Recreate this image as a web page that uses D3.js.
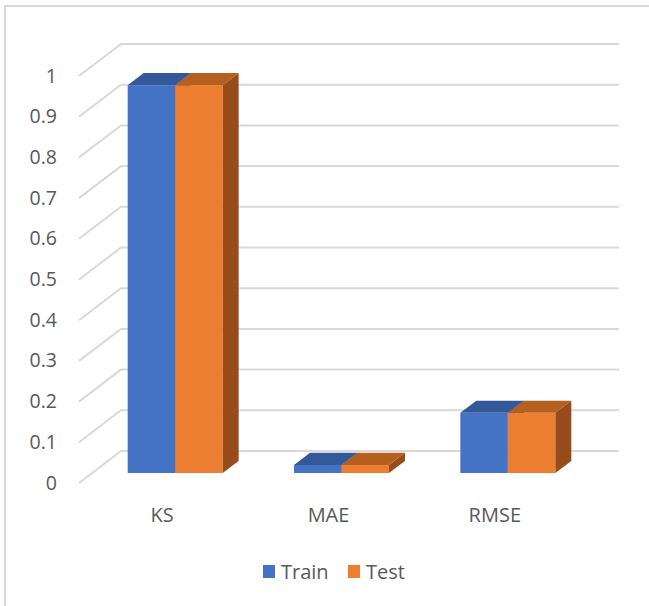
<!DOCTYPE html>
<html>
<head>
<meta charset="utf-8">
<script src="https://cdn.jsdelivr.net/npm/d3@7"></script>
<style>
  html, body { margin: 0; padding: 0; background: #fff; }
  svg { display: block; }
  text { font-family: "Open Sans", "Liberation Sans", sans-serif; fill: #595959; }
</style>
</head>
<body>
<svg id="chart" width="649" height="606"></svg>
<script>
// Model error metrics, train vs test
const categories = ["KS", "MAE", "RMSE"];
const seriesNames = ["Train", "Test"];
const trainValues = [0.953, 0.02, 0.148];
const testValues = [0.953, 0.02, 0.148];
const yTickValues = [0, 0.1, 0.2, 0.3, 0.4, 0.5, 0.6, 0.7, 0.8, 0.9, 1];
const yTickLabels = ["0", "0.1", "0.2", "0.3", "0.4", "0.5", "0.6", "0.7", "0.8", "0.9", "1"];

const colors = {
  Train: { front: "#4472C4", top: "#34599A", side: "#2F5390" },
  Test:  { front: "#ED7D31", top: "#B5601F", side: "#984C1C" }
};

const svg = d3.select("#chart");

// chart frame
svg.append("path")
  .attr("d", "M5,606 L5,6 L649,6")
  .attr("fill", "none")
  .attr("stroke", "#d9d9d9")
  .attr("stroke-width", 2);

// front plane scales and depth projection
const y = d3.scaleLinear().domain([0, 1]).range([483, 76]);
const x = d3.scaleBand().domain(categories).range([79, 578]);
const sub = d3.scaleBand().domain(seriesNames).range([-47.5, 47.5]);
const depthX = d3.scaleLinear().domain([0, 1]).range([0, 42]);
const depthY = d3.scaleLinear().domain([0, 1]).range([0, -32]);
const barDepth = [0.31, 0.69];
const backRight = 619;

function proj(xf, v, t) {
  return [xf + depthX(t), y(v) + depthY(t)];
}

// gridlines: floor-to-wall diagonal and back wall line
const grid = svg.append("g");
yTickValues.forEach(v => {
  const a = proj(79, v, 0), b = proj(79, v, 1);
  grid.append("path")
    .attr("d", `M${a[0]},${a[1]} L${b[0]},${b[1]} L${backRight},${b[1]}`)
    .attr("fill", "none")
    .attr("stroke", "#d9d9d9")
    .attr("stroke-width", 2);
});

// value axis labels
svg.append("g").selectAll("text")
  .data(yTickValues)
  .join("text")
  .attr("x", 57)
  .attr("y", d => y(d) - 1)
  .attr("text-anchor", "end")
  .attr("dominant-baseline", "central")
  .attr("font-size", 19.5)
  .text((d, i) => yTickLabels[i]);

// bars
const seriesValues = { Train: trainValues, Test: testValues };
const bars = svg.append("g");
categories.forEach((cat, ci) => {
  const cx = x(cat) + x.bandwidth() / 2;
  seriesNames.forEach(s => {
    const v = seriesValues[s][ci];
    const x0 = cx + sub(s), x1 = x0 + sub.bandwidth();
    const [t0, t1] = barDepth;
    const poly = pts => "M" + pts.map(p => p.join(",")).join("L") + "Z";
    // front face
    bars.append("path")
      .attr("d", poly([proj(x0, 0, t0), proj(x1, 0, t0), proj(x1, v, t0), proj(x0, v, t0)]))
      .attr("fill", colors[s].front);
    // top face
    bars.append("path")
      .attr("d", poly([proj(x0, v, t0), proj(x1, v, t0), proj(x1, v, t1), proj(x0, v, t1)]))
      .attr("fill", colors[s].top);
    // right side face
    bars.append("path")
      .attr("d", poly([proj(x1, 0, t0), proj(x1, 0, t1), proj(x1, v, t1), proj(x1, v, t0)]))
      .attr("fill", colors[s].side);
  });
});

// category labels
svg.append("g").selectAll("text")
  .data(categories)
  .join("text")
  .attr("x", d => x(d) + x.bandwidth() / 2)
  .attr("y", 514)
  .attr("text-anchor", "middle")
  .attr("dominant-baseline", "central")
  .attr("font-size", 20)
  .text(d => d);

// legend
const legendItems = [
  { name: "Train", sx: 263, tx: 281 },
  { name: "Test", sx: 348, tx: 366 }
];
const legend = svg.append("g");
legendItems.forEach(it => {
  legend.append("rect")
    .attr("x", it.sx).attr("y", 565)
    .attr("width", 12).attr("height", 13)
    .attr("fill", colors[it.name].front);
  legend.append("text")
    .attr("x", it.tx).attr("y", 571)
    .attr("dominant-baseline", "central")
    .attr("font-size", 20)
    .text(it.name);
});
</script>
</body>
</html>
